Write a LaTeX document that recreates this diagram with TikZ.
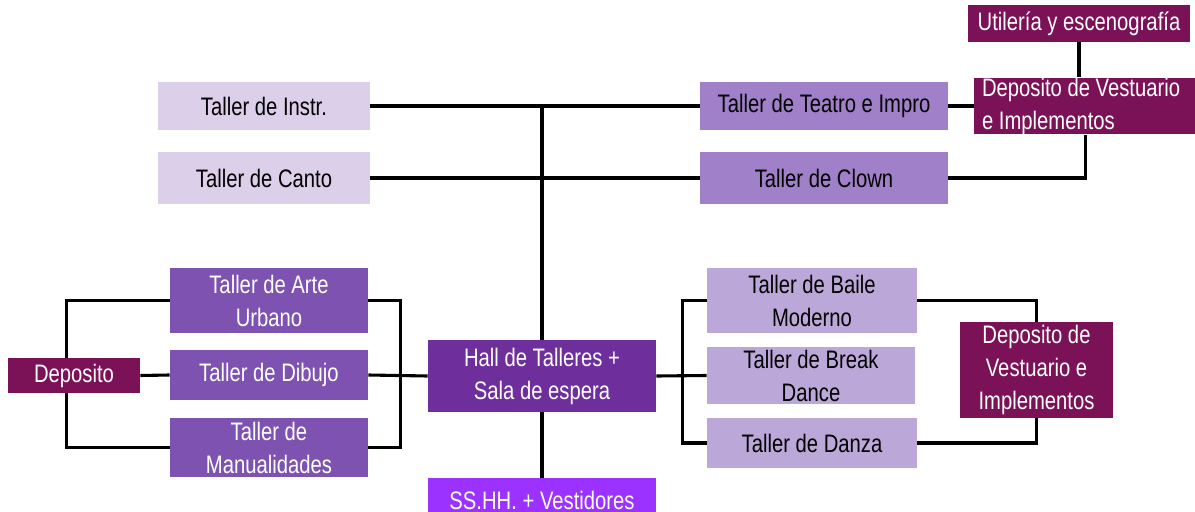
\documentclass[tikz,border=0pt]{standalone}
\usepackage{fontspec}
\setmainfont{Liberation Sans}[FakeStretch=0.8]
\usetikzlibrary{positioning, backgrounds}

\definecolor{lilaClaro}{RGB}{220,207,233}
\definecolor{lilaMedio}{RGB}{160,128,200}
\definecolor{lilaSuave}{RGB}{188,168,216}
\definecolor{moradoTaller}{RGB}{125,82,176}
\definecolor{moradoHall}{RGB}{110,46,155}
\definecolor{violetaSSHH}{RGB}{155,50,255}
\definecolor{vinoDeposito}{RGB}{123,17,87}

\begin{document}
\begin{tikzpicture}[x=0.025cm, y=-0.025cm]

    \tikzset{
        caja/.style 2 args={inner sep=0pt, align=center, font=\fontsize{18}{23.5}\selectfont,
            minimum width=#1*0.025cm, minimum height=#2*0.025cm},
        claro/.style={fill=lilaClaro, text=black},
        medio/.style={fill=lilaMedio, text=black},
        suave/.style={fill=lilaSuave, text=black},
        taller/.style={fill=moradoTaller, text=white},
        hall/.style={fill=moradoHall, text=white},
        sshh/.style={fill=violetaSSHH, text=white},
        deposito/.style={fill=vinoDeposito, text=white},
        enlace/.style={draw=black, line width=2.2pt}
    }

    \useasboundingbox (0,0) rectangle (1195,512);

    % =================================================================
    % 1. BLOQUE SUPERIOR
    % =================================================================
    \node[caja={222}{37}, deposito] (util) at (1079,23.5) {Utilería y escenografía};
    \node[caja={223}{56}, deposito, align=flush left, text width=207*0.025cm] (depT) at (1085.5,106) {Deposito de Vestuario\\e Implementos};

    \node[caja={212}{48}, claro] (instr) at (264,106) {Taller de Instr.};
    \node[caja={212}{52}, claro] (canto) at (264,178) {Taller de Canto};
    \node[caja={248}{48}, medio] (teatro) at (824,106) {Taller de Teatro e Impro};
    \node[caja={248}{52}, medio] (clown) at (824,178) {Taller de Clown};

    % =================================================================
    % 2. BLOQUE CENTRAL
    % =================================================================
    \node[caja={228}{72}, hall] (hall) at (542,376) {Hall de Talleres +\\Sala de espera};
    \node[caja={228}{44}, sshh] (sshh) at (542,500) {SS.HH. + Vestidores};

    % --- talleres a la izquierda ---
    \node[caja={198}{65}, taller] (arte) at (269,300.5) {Taller de Arte\\Urbano};
    \node[caja={198}{50}, taller] (dibujo) at (269,375) {Taller de Dibujo};
    \node[caja={198}{59}, taller] (manual) at (269,447.5) {Taller de\\Manualidades};
    \node[caja={132}{35}, deposito] (depL) at (74,375.5) {Deposito};

    % --- talleres a la derecha ---
    \node[caja={210}{65}, suave] (baile) at (812,300.5) {Taller de Baile\\Moderno};
    \node[caja={208}{57}, suave] (break) at (811,375.5) {Taller de Break\\Dance};
    \node[caja={210}{50}, suave] (danza) at (812,443) {Taller de Danza};
    \node[caja={153}{96}, deposito] (depR) at (1036.5,370) {Deposito de\\Vestuario e\\Implementos};

    % =================================================================
    % 3. CONEXIONES (detrás de las cajas)
    % =================================================================
    \begin{scope}[on background layer, every path/.style=enlace]
        \draw (instr.east) -- (teatro.west);
        \draw (canto.east) -- (clown.west);
        \draw (hall.north) -- (hall.north |- instr.east);
        \draw (hall.south) -- (sshh.north);

        \draw (teatro.east) -- (depT.west);
        \draw (util.south) -- (util.south |- depT.north);
        \draw (clown.east) -| (depT.south);

        \draw (depL.east) -- (dibujo.west);
        \draw (arte.west) -- ++(-103,0) |- (manual.west);
        \draw (arte.east) -- ++(32,0) |- (manual.east);
        \draw (dibujo.east) -- (hall.west);

        \draw (hall.east) -- (break.west);
        \draw (baile.west) -- ++(-24,0) |- (danza.west);
        \draw (baile.east) -| (depR.north);
        \draw (danza.east) -| (depR.south);
    \end{scope}

\end{tikzpicture}
\end{document}
